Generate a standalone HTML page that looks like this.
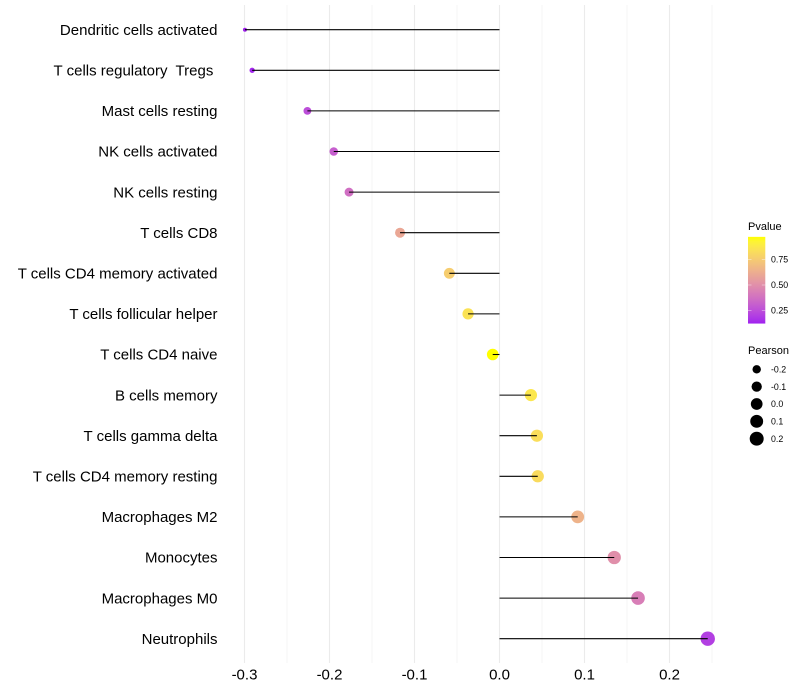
<!DOCTYPE html>
<html lang="en">
<head>
<meta charset="utf-8">
<title>Immune cell correlation lollipop chart</title>
<style>
html,body{margin:0;padding:0;background:#fff;}
svg{display:block;}
text{font-family:"Liberation Sans",sans-serif;white-space:pre;}
</style>
</head>
<body>
<svg id="chart" width="800" height="700" viewBox="0 0 800 700" xmlns="http://www.w3.org/2000/svg"></svg>
<script>
const categories = ["Dendritic cells activated","T cells regulatory  Tregs ","Mast cells resting","NK cells activated","NK cells resting","T cells CD8","T cells CD4 memory activated","T cells follicular helper","T cells CD4 naive","B cells memory","T cells gamma delta","T cells CD4 memory resting","Macrophages M2","Monocytes","Macrophages M0","Neutrophils"];
const pearsonValues = [-0.2995,-0.291,-0.226,-0.195,-0.177,-0.117,-0.059,-0.037,-0.008,0.037,0.044,0.045,0.092,0.135,0.163,0.245];
const pValues = [0.125,0.135,0.25,0.31,0.37,0.6,0.76,0.85,0.972,0.87,0.83,0.82,0.65,0.5,0.43,0.2];
const xMajorTicks = [-0.3,-0.2,-0.1,0.0,0.1,0.2];
const xMinorTicks = [-0.25,-0.15,-0.05,0.05,0.15,0.25];
const xTickLabels = ["-0.3","-0.2","-0.1","0.0","0.1","0.2"];
const colorTicks = [0.25,0.5,0.75];
const colorTickLabels = ["0.25","0.50","0.75"];
const sizeTicks = [-0.2,-0.1,0.0,0.1,0.2];
const sizeTickLabels = ["-0.2","-0.1","0.0","0.1","0.2"];
const pDomain = [0.122,0.972];
const pearsonDomain = [-0.2995,0.245];

const NS = "http://www.w3.org/2000/svg";
const svg = document.getElementById("chart");

function xScale(v){ return 499.5 + v * 850; }
function yScale(i){ return 29.7 + i * 40.6; }
function rScale(v){
  const t = Math.max(0,(v - pearsonDomain[0]) / (pearsonDomain[1] - pearsonDomain[0]));
  return 2 + 5.2 * Math.sqrt(t);
}
function pToLegendY(p){ return 285 - (p - 0.5) * 102; }

function hexToLab(hex){
  const c=[1,3,5].map(function(i){
    const u=parseInt(hex.substr(i,2),16)/255;
    return u<=0.04045?u/12.92:Math.pow((u+0.055)/1.055,2.4);
  });
  const X=(0.4124*c[0]+0.3576*c[1]+0.1805*c[2])/0.95047;
  const Y=0.2126*c[0]+0.7152*c[1]+0.0722*c[2];
  const Z=(0.0193*c[0]+0.1192*c[1]+0.9505*c[2])/1.08883;
  const f=function(t){return t>0.008856?Math.cbrt(t):7.787*t+16/116;};
  return [116*f(Y)-16,500*(f(X)-f(Y)),200*(f(Y)-f(Z))];
}
function labToCss(l){
  const fy=(l[0]+16)/116, fx=fy+l[1]/500, fz=fy-l[2]/200;
  const g=function(t){return t*t*t>0.008856?t*t*t:(t-16/116)/7.787;};
  const X=g(fx)*0.95047, Y=g(fy), Z=g(fz)*1.08883;
  const lin=[3.2406*X-1.5372*Y-0.4986*Z,-0.9689*X+1.8758*Y+0.0415*Z,0.0557*X-0.2040*Y+1.0570*Z];
  const out=lin.map(function(u){
    u=Math.min(1,Math.max(0,u));
    const s=u<=0.0031308?12.92*u:1.055*Math.pow(u,1/2.4)-0.055;
    return Math.round(s*255);
  });
  return "rgb("+out.join(",")+")";
}
const lowLab = hexToLab("#A020F0");
const highLab = hexToLab("#FFFF00");
function colorScale(p){
  const t=Math.min(1,Math.max(0,(p-pDomain[0])/(pDomain[1]-pDomain[0])));
  return labToCss(lowLab.map(function(a,i){return a+(highLab[i]-a)*t;}));
}

function make(tag, attrs, parent, text){
  const el=document.createElementNS(NS,tag);
  Object.keys(attrs).forEach(function(k){el.setAttribute(k,attrs[k]);});
  if(text!==undefined){el.textContent=text;}
  (parent||svg).appendChild(el);
  return el;
}

/* background */
const bg = make("rect",{x:0,y:0,width:800,height:700,fill:"#ffffff"});



/* grid */
const gridGroup = make("g",{});


xMinorTicks.forEach(function(v){
  const g = make("line",{x1:xScale(v),x2:xScale(v),y1:5,y2:663,stroke:"#ededed","stroke-width":0.6},gridGroup);
  
  
});
xMajorTicks.forEach(function(v){
  const g = make("line",{x1:xScale(v),x2:xScale(v),y1:5,y2:663,stroke:"#ebebeb","stroke-width":1.07},gridGroup);
  
  
});

/* points */
const pointsGroup = make("g",{});


pearsonValues.forEach(function(v,i){
  const c = make("circle",{cx:xScale(v),cy:yScale(i),r:rScale(v),fill:colorScale(pValues[i])},pointsGroup);
  
  
});

/* stems */
const stemsGroup = make("g",{});


pearsonValues.forEach(function(v,i){
  const l = make("line",{x1:xScale(0),x2:xScale(v),y1:yScale(i),y2:yScale(i),stroke:"#000000","stroke-width":1.07},stemsGroup);
  
  
});

/* y labels */
const yAxis = make("g",{});


categories.forEach(function(name,i){
  const t = make("text",{x:217.5,y:yScale(i)+5.2,"text-anchor":"end","font-size":15,fill:"#000000"},yAxis,name);
  
  
});

/* x labels */
const xAxis = make("g",{});


xMajorTicks.forEach(function(v,i){
  const t = make("text",{x:xScale(v),y:679.5,"text-anchor":"middle","font-size":15,fill:"#000000"},xAxis,xTickLabels[i]);
  
  
});

/* colour legend */
const colorLegend = make("g",{});


const colorTitle = make("text",{x:748,y:230,"font-size":11,fill:"#000000"},colorLegend,"Pvalue");


const defs = make("defs",{});
const grad = make("linearGradient",{id:"pvalue-gradient",x1:0,y1:1,x2:0,y2:0},defs);
for(let k=0;k<=20;k++){
  const p = pDomain[0]+(pDomain[1]-pDomain[0])*k/20;
  make("stop",{offset:(k/20),"stop-color":colorScale(p)},grad);
}
const barTop = pToLegendY(pDomain[1]);
const barBottom = pToLegendY(pDomain[0]);
const colorBar = make("rect",{x:748,y:barTop,width:17.3,height:barBottom-barTop,fill:"url(#pvalue-gradient)"},colorLegend);


colorTicks.forEach(function(p,i){
  const y = pToLegendY(p);
  const a = make("line",{x1:748,x2:751.5,y1:y,y2:y,stroke:"#ffffff","stroke-width":0.5,"stroke-opacity":0.8},colorLegend);
  
  
  const b = make("line",{x1:761.8,x2:765.3,y1:y,y2:y,stroke:"#ffffff","stroke-width":0.5,"stroke-opacity":0.8},colorLegend);
  
  
  const t = make("text",{x:771,y:y+3.1,"font-size":8.8,fill:"#000000"},colorLegend,colorTickLabels[i]);
  
  
});

/* size legend */
const sizeLegend = make("g",{});


const sizeTitle = make("text",{x:748,y:354,"font-size":11,fill:"#000000"},sizeLegend,"Pearson");


sizeTicks.forEach(function(v,i){
  const y = 369.3 + i * 17.35;
  const c = make("circle",{cx:756.7,cy:y,r:rScale(v),fill:"#000000"},sizeLegend);
  
  
  const t = make("text",{x:771,y:y+3.1,"font-size":8.8,fill:"#000000"},sizeLegend,sizeTickLabels[i]);
  
  
});
</script>
</body>
</html>
